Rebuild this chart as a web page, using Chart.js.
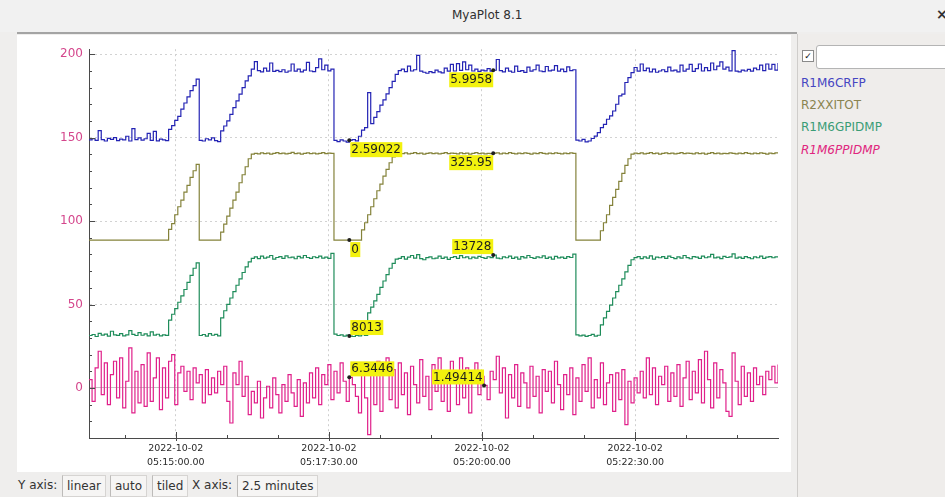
<!DOCTYPE html>
<html>
<head>
<meta charset="utf-8">
<title>MyaPlot 8.1</title>
<script src="https://cdn.jsdelivr.net/npm/chart.js@4.4.0/dist/chart.umd.min.js"></script>
<style>
  html, body { margin: 0; padding: 0; width: 945px; height: 497px; overflow: hidden;
    background: #efeeed; font-family: "DejaVu Sans", sans-serif; color: #333; }
  .abs { position: absolute; }
  #titlebar { left: 0; top: 0; width: 945px; height: 32px; background: #f1f1f1; }
  #title { left: 452px; top: 8px; font-size: 12px; color: #2f2f2f; }
  #close { left: 936px; top: 6px; font-size: 14px; font-weight: bold; color: #333; }
  #sep { left: 17px; top: 32px; width: 780px; height: 2px; background: #a4a4a4; }
  #plotbox { left: 17px; top: 35px; width: 774px; height: 437px; background: #fff; }
  #plot { left: 17px; top: 36px; }
  #panel { left: 797px; top: 34px; width: 148px; height: 463px; background: #efedeb;
    border-left: 1px solid #cfcdcb; }
  #check { left: 802px; top: 50px; width: 10px; height: 10px; border: 1px solid #8a8a8a;
    background: #fff; font-size: 9px; line-height: 10px; text-align: center; color: #111; }
  #filter { left: 816px; top: 45px; width: 140px; height: 22px; border: 1px solid #b4b4b4;
    border-radius: 3px; background: #fff; }
  .leg { left: 801px; font-size: 12px; }
  #status { left: 0; top: 472px; width: 797px; height: 25px; }
  .st { top: 478px; font-size: 12px; color: #333; }
  .btn { top: 475px; height: 20px; line-height: 20px; padding: 0 4px; font-size: 12px; color: #333;
    background: #f6f5f4; border: 1px solid #d6d4d2; border-left-color: #bdbbb9; }
</style>
</head>
<body>
<div id="titlebar" class="abs"></div>
<div id="title" class="abs">MyaPlot 8.1</div>
<div id="close" class="abs">×</div>
<div id="sep" class="abs"></div>
<div id="plotbox" class="abs"></div>
<canvas id="plot" class="abs" width="773" height="436"></canvas>
<div id="panel" class="abs"></div>
<div id="check" class="abs">✓</div>
<div id="filter" class="abs"></div>
<div class="abs leg" style="top:76px;color:#4646c2">R1M6CRFP</div>
<div class="abs leg" style="top:98px;color:#8a8450">R2XXITOT</div>
<div class="abs leg" style="top:120px;color:#3a9c76">R1M6GPIDMP</div>
<div class="abs leg" style="top:143px;color:#e0267e;font-style:italic">R1M6PPIDMP</div>
<div class="abs st" style="left:18px">Y axis:</div>
<div class="abs btn" style="left:62px">linear</div>
<div class="abs btn" style="left:110px">auto</div>
<div class="abs btn" style="left:152px">tiled</div>
<div class="abs st" style="left:192px">X axis:</div>
<div class="abs btn" style="left:237px">2.5 minutes</div>

<script>
// Archived channels, one sample every 3 s starting 85 s before 05:15:00.
const sampleStart = -85;   // seconds relative to 2022-10-02 05:15:00
const samplePeriod = 3;    // seconds

const channelNames = ['R1M6CRFP', 'R2XXITOT', 'R1M6GPIDMP', 'R1M6PPIDMP'];

// R1M6CRFP (raw units)
const crfp = [
  2.60, 2.66, 2.58, 3.05, 2.62, 2.55, 2.68, 2.63, 2.71, 2.57, 2.64, 2.60, 2.78, 2.55, 3.15, 2.62, 2.70, 2.59, 2.66, 2.92, 2.58, 3.02, 2.56, 2.64, 2.60, 2.57,
  3.12, 3.30, 3.55, 3.75, 4.10, 4.40, 4.70, 5.00, 5.25, 5.56,
  2.58, 2.55, 2.66, 2.60, 2.70, 2.57, 2.52,
  3.04, 3.28, 3.53, 3.85, 4.18, 4.50, 4.83, 5.15, 5.48, 5.72, 6.05,
  6.42, 5.98, 5.92, 6.10, 5.95, 6.35, 5.94, 5.99, 5.93, 6.02, 5.90, 5.96, 6.30, 5.95, 6.05, 5.92, 6.00, 6.38, 5.96, 5.93, 6.12, 6.55, 6.02, 6.25, 5.97, 6.05,
  2.58, 2.52, 2.60, 2.55, 2.49, 2.59022, 2.62, 2.56, 2.78,
  3.08, 3.20, 4.91, 3.40, 3.70, 3.98, 4.30, 4.55, 4.85, 5.15, 5.45, 5.80,
  5.98, 6.05, 5.93, 6.20, 5.96, 6.02, 6.72, 5.95, 5.90, 5.85, 5.93, 5.88, 6.00, 5.92, 5.87, 6.10, 5.95, 6.28, 5.96, 6.32,
  5.99, 6.40, 6.02, 6.25, 5.96, 6.05, 5.94, 6.00, 5.97, 6.08, 5.95, 5.9958, 6.52, 5.98, 5.92, 6.10, 5.95, 5.90, 6.20, 5.94,
  5.98, 5.89, 6.15, 5.95, 6.02, 6.25, 5.96, 5.93, 6.18, 5.97, 6.00, 6.22, 5.95, 6.05, 5.93, 6.16, 5.98, 6.02,
  2.59, 2.55, 2.63, 2.51, 2.55, 2.67, 2.79, 2.96,
  3.20, 3.36, 3.61, 3.77, 4.01, 4.34, 4.75, 4.83, 5.40, 5.64, 5.88,
  6.13, 5.95, 6.30, 5.98, 6.10, 5.92, 6.05, 5.90, 5.96, 6.02, 5.93, 6.15, 5.97, 6.00, 5.92, 6.25, 5.95, 6.05, 6.28, 5.94,
  6.08, 6.30, 5.96, 6.12, 5.98, 6.35, 6.02, 6.20, 6.40, 6.05, 6.15, 5.97, 6.95, 5.95, 5.92, 6.00, 5.96, 6.04, 5.95, 6.10,
  6.02, 6.25, 5.98, 6.30, 6.05, 6.28, 6.00, 6.35
];

// R2XXITOT (raw units)
const xitot = [
  0, 0, 0, 0, 0, 0, 0, 0, 0, 0, 0, 0, 0, 0, 0, 0, 0, 0, 0, 0, 0, 0, 0, 0, 0, 0,
  40, 62, 95, 125, 150, 180, 205, 235, 260, 284,
  0, 0, 0, 0, 0, 0, 0,
  30, 60, 90, 120, 150, 180, 215, 245, 275, 305, 322,
  325, 323, 327, 324, 326, 322, 325, 328, 324, 326, 323, 325, 329, 324, 326, 322, 325, 327, 324, 326, 323, 325, 328, 324, 326, 325,
  0, 0, 0, 0, 0, 0, 0, 0, 0,
  38, 65, 95, 125, 155, 185, 210, 240, 265, 290, 312, 324,
  326, 324, 327, 323, 325, 328, 324, 326, 322, 325, 327, 324, 326, 323, 325, 328, 324, 326, 325, 323,
  327, 324, 326, 322, 325, 328, 324, 326, 323, 325, 324, 325.95, 327, 323, 326, 324, 328, 325, 323, 326,
  324, 327, 325, 322, 326, 324, 328, 325, 323, 326, 324, 327, 325, 323, 326, 324, 327, 325,
  0, 0, 0, 0, 0, 0, 0, 0,
  35, 65, 95, 130, 160, 190, 220, 250, 280, 305, 322,
  326, 324, 327, 323, 325, 328, 324, 326, 322, 325, 327, 324, 326, 323, 325, 328, 324, 326, 325, 323,
  327, 324, 326, 322, 325, 328, 324, 326, 323, 325, 324, 327, 325, 323, 326, 324, 328, 325, 323, 326,
  324, 327, 325, 322, 326, 324, 327, 325
];

// R1M6GPIDMP (raw units)
const gpidmp = [
  8050, 8120, 7980, 8200, 8080, 8150, 8010, 8350, 8100, 8060, 8180, 8020, 8090, 8400, 8130, 8050, 8250, 8070, 8160, 8020, 8300, 8080, 8140, 8030, 8100, 8060,
  9140, 9550, 9950, 10400, 10850, 11300, 11800, 12300, 12800, 13180,
  8050, 8120, 8000, 8180, 8070, 8130, 8020,
  9300, 9800, 10250, 10700, 11150, 11600, 12050, 12500, 12900, 13250, 13500,
  13600, 13480, 13650, 13520, 13580, 13700, 13450, 13560, 13620, 13500, 13680, 13540, 13590, 13470, 13640, 13530, 13700, 13560, 13490, 13610, 13550, 13660, 13520, 13580, 13500, 13850,
  8150, 8050, 8100, 8000, 8080, 8013, 7980, 8060, 8020, 8110, 8050,
  9650, 10050, 10500, 10950, 11450, 11900, 12350, 12800, 13150, 13450,
  13500, 13620, 13450, 13580, 13700, 13520, 13760, 13480, 13400, 13550, 13600, 13470, 13520, 13650, 13500, 13580, 13430, 13560, 13620, 13500,
  13690, 13540, 13600, 13470, 13580, 13520, 13640, 13560, 13500, 13610, 13550, 13728, 13520, 13470, 13600, 13540, 13660, 13500, 13580, 13450,
  13620, 13530, 13700, 13560, 13490, 13600, 13540, 13680, 13500, 13580, 13450, 13640, 13530, 13590, 13500, 13620, 13560, 13800,
  8100, 8020, 8080, 7990, 8050, 8130, 8000, 8070,
  8800, 9300, 9750, 10200, 10700, 11150, 11600, 12050, 12550, 13000, 13400,
  13550, 13620, 13480, 13600, 13520, 13680, 13450, 13580, 13540, 13620, 13500, 13650, 13560, 13480, 13600, 13520, 13700, 13550, 13470, 13620,
  13580, 13500, 13660, 13540, 13600, 13780, 13530, 13590, 13480, 13640, 13560, 13600, 13820, 13520, 13580, 13500, 13620, 13550, 13470, 13600,
  13540, 13660, 13500, 13590, 13620, 13540, 13600, 13560
];

// R1M6PPIDMP (raw units)
const ppidmp = [
  5, -8, 12, 22, -4, 15, -10, 8, 16, -6,
  18, -12, 4, 24, -15, 10, -9, 14, -11, 21,
  -8, 6, 18, -13, 12, -6, 16, 20, -10, 9,
  13, -2, 10, -7, 12, 3, 8, -9, 11, -4,
  6, -3, 10, 2, 13, -8, -21, 9, 2, 16,
  -5, 7, -16, -2, -9, 4, -18, -6, 1, -12,
  6, -4, -15, 2, -8, 8, -3, -11, 5, -17,
  3, -9, 9, -6, 12, -10, 8, 2, 14, -7,
  10, -3, 15, 4, -8, 6.3446, 2, -5, -15, 10,
  -6, -28, 12, -10, 16, -14, 8, 18, -7, 11,
  -12, 15, -4, 9, -16, 13, 2, -9, 17, -5,
  7, -13, 14, -2, 18, -8, 10, -14, 16, 4,
  -10, 18, -6, 12, -15, 9, 15, -4, 7, 1.49414,
  -7, 10, 5, 19, -3, 12, -18, 8, -6, 14,
  -11, 9, 3, -12, 13, -5, 7, -15, 11, -2,
  10, -9, 16, 2, -13, 8, -4, 12, -16, 6,
  -8, 14, -2, 18, -12, 5, -6, 15, -10, 3,
  8, -14, 9, -7, 11, -22, 4, -9, 6, -3,
  10, -6, 18, -4, 12, -10, 7, 2, 13, -8,
  9, -5, 14, -11, 6, 16, -7, 10, -3, 17,
  -9, 22, 5, -12, 15, -6, 11, 3, -14, -17,
  21, 4, -10, 13, -5, 9, -8, 12, 2, 7,
  -4, 10, 5, 13, 3, 14
];

// "tiled" auto scaling: each channel is mapped onto the shared axis as offset + gain * raw
const tileGain   = [12.30, 0.15984, 0.008487, 1];
const tileOffset = [116.63, 88.6, -36.9, 0];

const lineColors = ['#2323b4', '#84823a', '#1e8c5a', '#e0208a'];

// Axis ticks
const yLabelValues = [0, 50, 100, 150, 200];
const xLabelSeconds = [0, 150, 300, 450];
const labelDate = '2022-10-02';

// Cursor readouts: channel, sample index, which side of the point the box sits
const readouts = [
  { ch: 0, idx: 85,  side: 'below-right' },
  { ch: 0, idx: 132, side: 'below-left' },
  { ch: 1, idx: 85,  side: 'below-right' },
  { ch: 1, idx: 132, side: 'below-left' },
  { ch: 2, idx: 85,  side: 'above-right' },
  { ch: 2, idx: 132, side: 'above-left' },
  { ch: 3, idx: 85,  side: 'above-right' },
  { ch: 3, idx: 129, side: 'above-left' }
];

const rawSeries = [crfp, xitot, gpidmp, ppidmp];

function clockLabel(sec) {
  const total = 5 * 3600 + 15 * 60 + sec;
  const h = Math.floor(total / 3600), m = Math.floor((total % 3600) / 60), s = total % 60;
  const p = n => String(n).padStart(2, '0');
  return p(h) + ':' + p(m) + ':' + p(s) + '.00';
}

const datasets = rawSeries.map((raw, c) => ({
  label: channelNames[c],
  data: raw.map((v, i) => ({ x: sampleStart + i * samplePeriod, y: tileOffset[c] + tileGain[c] * v })),
  borderColor: lineColors[c],
  borderWidth: 1.2,
  stepped: true,
  pointRadius: 0,
  fill: false
}));

const axisTicks = {
  id: 'axisTicks',
  afterDatasetsDraw(chart) {
    const { ctx, chartArea: a, scales: { x, y } } = chart;
    ctx.save();
    ctx.strokeStyle = '#4a4a4a';
    ctx.lineWidth = 1;
    ctx.beginPath();
    for (let v = -20; v <= 200; v += 10) {
      const py = Math.round(y.getPixelForValue(v)) + 0.5;
      const len = v % 50 === 0 ? 6 : 3;
      ctx.moveTo(a.left, py); ctx.lineTo(a.left + len, py);
    }
    for (let t = -50; t <= 550; t += 50) {
      const px = Math.round(x.getPixelForValue(t)) + 0.5;
      const major = t % 150 === 0;
      ctx.moveTo(px, a.bottom + (major ? 3 : 0));
      ctx.lineTo(px, a.bottom - (major ? 6 : 3));
    }
    ctx.stroke();
    ctx.restore();
  }
};

const cursorReadouts = {
  id: 'cursorReadouts',
  afterDatasetsDraw(chart) {
    const ctx = chart.ctx;
    ctx.save();
    ctx.font = '12px "DejaVu Sans"';
    ctx.textBaseline = 'middle';
    readouts.forEach(r => {
      const pt = chart.getDatasetMeta(r.ch).data[r.idx];
      const text = String(rawSeries[r.ch][r.idx]);
      const w = Math.ceil(ctx.measureText(text).width) + 2;
      const h = 15;
      const bx = r.side.endsWith('left') ? pt.x - w : pt.x + 1;
      const by = r.side.startsWith('above') ? pt.y - h - 1 : pt.y + 2;
      ctx.fillStyle = '#f3f20e';
      ctx.fillRect(bx, by, w, h);
      ctx.fillStyle = '#1e1e1e';
      ctx.fillText(text, bx + 1, by + h / 2 + 0.5);
      ctx.beginPath();
      ctx.arc(pt.x, pt.y, 2, 0, Math.PI * 2);
      ctx.fill();
    });
    ctx.restore();
  }
};

new Chart(document.getElementById('plot'), {
  type: 'line',
  data: { datasets },
  plugins: [axisTicks, cursorReadouts],
  options: {
    responsive: false,
    devicePixelRatio: 1,
    animation: false,
    events: [],
    layout: { padding: { top: 13, right: 12, left: 0, bottom: 0 } },
    plugins: { legend: { display: false }, tooltip: { enabled: false } },
    scales: {
      x: {
        type: 'linear',
        min: sampleStart,
        max: sampleStart + samplePeriod * (crfp.length - 1),
        afterBuildTicks: s => { s.ticks = xLabelSeconds.map(v => ({ value: v })); },
        afterFit: s => { s.height = 34; },
        grid: { color: '#cfcfcf', lineWidth: 1, drawTicks: false },
        border: { display: true, color: '#4a4a4a', width: 1, dash: [2, 3] },
        ticks: {
          autoSkip: false, maxRotation: 0, padding: 4, color: '#2a2a2a',
          font: { family: 'DejaVu Sans', size: 9.5, lineHeight: 1.45 },
          callback: v => [labelDate, clockLabel(v)]
        }
      },
      y: {
        min: -30,
        max: 203,
        afterBuildTicks: s => { s.ticks = yLabelValues.map(v => ({ value: v })); },
        afterFit: s => { s.width = 72; },
        grid: {
          drawTicks: false, lineWidth: 1,
          color: c => (c.tick && c.tick.value === 0) ? '#c4c4c4' : '#d2d2d2'
        },
        border: {
          display: true, color: '#4a4a4a', width: 1,
          dash: c => (c.tick && c.tick.value !== 0) ? [2, 3] : []
        },
        ticks: {
          padding: 6, color: '#d4468c',
          font: { family: 'DejaVu Sans', size: 12 }
        }
      }
    }
  }
});
</script>
</body>
</html>
